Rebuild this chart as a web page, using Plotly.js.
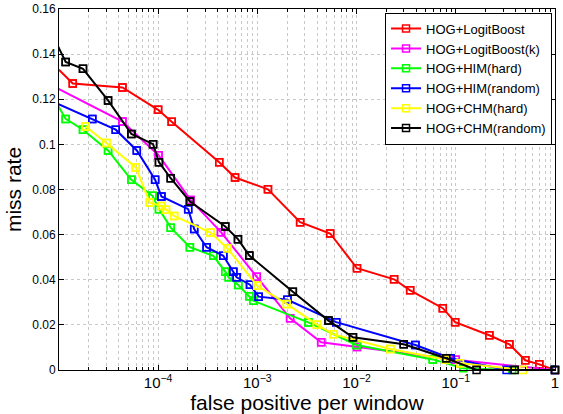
<!DOCTYPE html>
<html>
<head>
<meta charset="utf-8">
<script src="https://cdn.plot.ly/plotly-3.0.1.min.js"></script>
<style>html,body{margin:0;padding:0;background:#fff;}#chart{width:563px;height:414px;}</style>
</head>
<body>
<div id="chart"></div>
<script>
// ---- data ----
const seriesNames = ["HOG+LogitBoost", "HOG+LogitBoost(k)", "HOG+HIM(hard)", "HOG+HIM(random)", "HOG+CHM(hard)", "HOG+CHM(random)"];

const xLogit = [1e-5, 1.38e-5, 4.37e-5, 1.0e-4, 1.37e-4, 4.13e-4, 5.96e-4, 1.28e-3, 2.7e-3, 5.42e-3, 1.01e-2, 2.39e-2, 3.47e-2, 7.4e-2, 9.86e-2, 0.218, 0.347, 0.502, 0.695, 1];
const yLogit = [0.1331, 0.127, 0.1252, 0.1153, 0.110, 0.0921, 0.0853, 0.0801, 0.0655, 0.0605, 0.0451, 0.0402, 0.0353, 0.0274, 0.0212, 0.0154, 0.0114, 0.0043, 0.0025, 0];

const xLogitK = [8e-6, 4.37e-5, 1.01e-4, 2.12e-4, 4.3e-4, 9.87e-4, 2.14e-3, 4.4e-3, 1.01e-2, 0.1, 1];
const yLogitK = [0.1267, 0.1101, 0.0952, 0.0754, 0.0611, 0.0413, 0.0229, 0.0123, 0.0102, 0.0045, 0];

const xHimHard = [9e-6, 1.17e-5, 1.75e-5, 3.13e-5, 5.38e-5, 8.77e-5, 1.02e-4, 1.34e-4, 2.09e-4, 3.6e-4, 4.75e-4, 5.14e-4, 6.43e-4, 8.3e-4, 9.1e-4, 3.27e-3, 1.0e-2, 5.86e-2, 0.119, 0.37, 1];
const yHimHard = [0.1201, 0.1113, 0.1065, 0.0973, 0.0843, 0.0772, 0.0713, 0.0631, 0.0544, 0.0506, 0.0436, 0.0411, 0.0377, 0.0327, 0.0307, 0.0211, 0.0111, 0.0047, 0.0008, 0, 0];

const xHimRand = [8e-6, 2.17e-5, 3.74e-5, 6.1e-5, 9.33e-5, 1.08e-4, 2.01e-4, 2.31e-4, 3.08e-4, 4.54e-4, 5.73e-4, 6.19e-4, 8.43e-4, 1.03e-3, 2.01e-3, 6.24e-3, 3.92e-2, 8.85e-2, 0.325, 1];
const yHimRand = [0.1197, 0.1113, 0.1065, 0.0973, 0.0843, 0.0769, 0.0713, 0.0625, 0.0544, 0.0506, 0.0436, 0.0411, 0.0378, 0.0325, 0.0311, 0.0212, 0.0111, 0.0052, 0, 0];

const xChmHard = [1.86e-5, 3.01e-5, 5.96e-5, 8.24e-5, 1.08e-4, 1.2e-4, 1.45e-4, 3.38e-4, 4.98e-4, 1.0e-3, 1.98e-3, 3.98e-3, 5.86e-3, 2.19e-2, 7.87e-2, 0.11, 0.475];
const yChmHard = [0.1079, 0.1006, 0.0898, 0.0742, 0.0727, 0.0710, 0.0683, 0.0609, 0.0540, 0.0373, 0.0293, 0.0201, 0.0158, 0.0093, 0.0047, 0.003, 0];

const xChmRand = [9e-6, 1.17e-5, 1.75e-5, 3.13e-5, 5.38e-5, 8.9e-5, 1.02e-4, 1.34e-4, 2.09e-4, 4.75e-4, 6.38e-4, 8.3e-4, 2.28e-3, 5.21e-3, 9.2e-3, 2.99e-2, 8.0e-2, 0.162, 0.392, 1];
const yChmRand = [0.1469, 0.1365, 0.1335, 0.1195, 0.1046, 0.1001, 0.0921, 0.085, 0.0747, 0.0636, 0.058, 0.0507, 0.0347, 0.0219, 0.0145, 0.0114, 0.0052, 0, 0, 0];

const seriesColors = ["#ff0000", "#ff00ff", "#00ff00", "#0000ff", "#ffff00", "#000000"];

const xs = [xLogit, xLogitK, xHimHard, xHimRand, xChmHard, xChmRand];
const ys = [yLogit, yLogitK, yHimHard, yHimRand, yChmHard, yChmRand];

const XMIN = 1e-5;
const traces = [];
xs.forEach((x, i) => {
  const y = ys[i];
  const marker = {symbol: "square-open", size: 7, color: seriesColors[i], line: {width: 1.5, color: seriesColors[i]}};
  traces.push({
    x: x, y: y, type: "scatter", mode: "lines+markers", name: seriesNames[i],
    legendgroup: "g" + i, cliponaxis: true,
    line: {color: seriesColors[i], width: 2}, marker: marker
  });
  const xi = [], yi = [];
  x.forEach((v, k) => { if (v >= XMIN) { xi.push(v); yi.push(y[k]); } });
  traces.push({
    x: xi, y: yi, type: "scatter", mode: "markers", showlegend: false,
    legendgroup: "g" + i, cliponaxis: false, hoverinfo: "skip", marker: marker
  });
});

const font = {family: "Liberation Sans, Arial, sans-serif", color: "#000"};
const layout = {
  width: 563, height: 414,
  margin: {l: 59, r: 8, t: 9, b: 44},
  paper_bgcolor: "#fff", plot_bgcolor: "#fff",
  font: Object.assign({size: 12}, font),
  showlegend: true,
  legend: {
    x: 0.994, y: 0.99, xanchor: "right", yanchor: "top",
    bgcolor: "#fff", bordercolor: "#000", borderwidth: 1,
    font: Object.assign({size: 13}, font),
    tracegroupgap: 0
  },
  xaxis: {
    type: "log", range: [-4.999, 0], dtick: 1, exponentformat: "power",
    showline: true, linecolor: "#000", linewidth: 1, mirror: "ticks",
    ticks: "inside", ticklen: 5, tickcolor: "#000",
    showgrid: true, gridcolor: "#c8c8c8", griddash: "dot", gridwidth: 1,
    minor: {dtick: "D1", showgrid: true, gridcolor: "#c8c8c8", griddash: "dot", ticks: "inside", ticklen: 3, tickcolor: "#000"},
    zeroline: false,
    tickfont: Object.assign({size: 12}, font),
    title: {text: "false positive per window", font: Object.assign({size: 21}, font), standoff: 6}
  },
  yaxis: {
    range: [0, 0.16], dtick: 0.02,
    showline: true, linecolor: "#000", linewidth: 1, mirror: "ticks",
    ticks: "inside", ticklen: 5, tickcolor: "#000",
    showgrid: true, gridcolor: "#c8c8c8", griddash: "dot", gridwidth: 1,
    zeroline: false,
    tickfont: Object.assign({size: 12}, font),
    title: {text: "miss rate", font: Object.assign({size: 21}, font), standoff: 4}
  }
};

Plotly.newPlot("chart", traces, layout, {displayModeBar: false, staticPlot: true});
</script>
</body>
</html>
